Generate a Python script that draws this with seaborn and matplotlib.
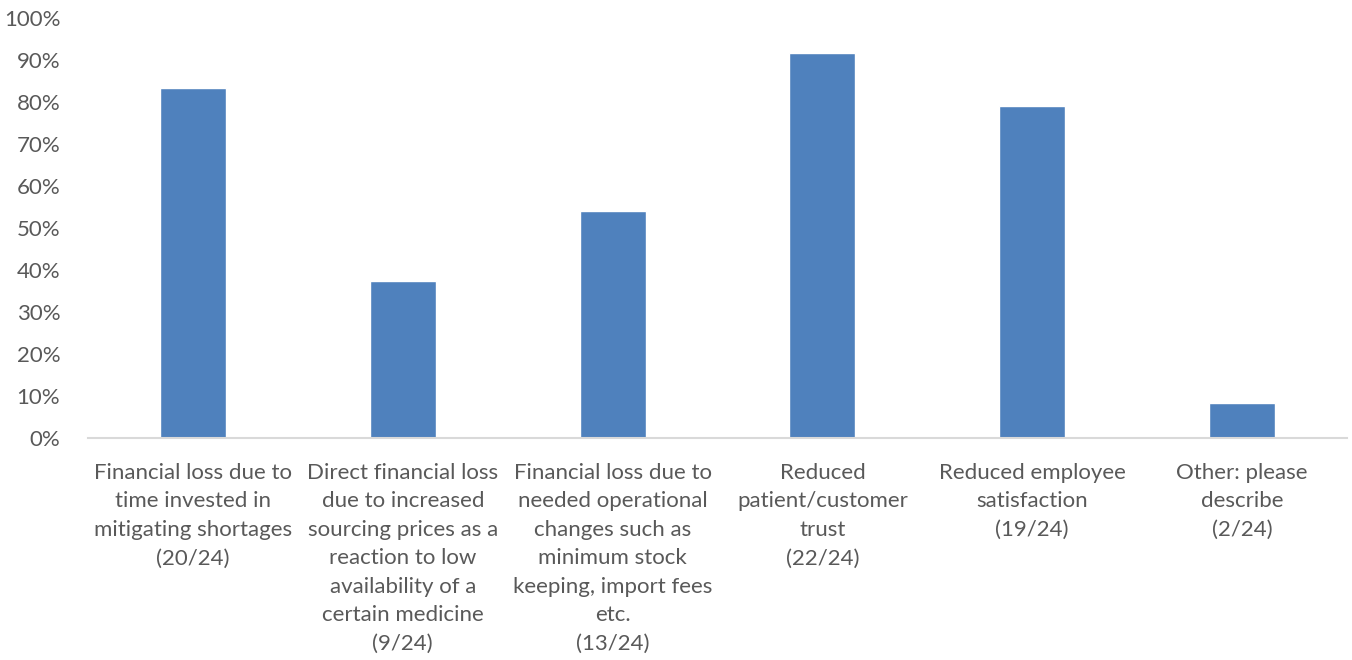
import matplotlib
matplotlib.use("Agg")
import matplotlib.pyplot as plt
import seaborn as sns
import pandas as pd
from matplotlib.ticker import PercentFormatter

categories = [
    "Financial loss due to\ntime invested in\nmitigating shortages\n(20/24)",
    "Direct financial loss\ndue to increased\nsourcing prices as a\nreaction to low\navailability of a\ncertain medicine\n(9/24)",
    "Financial loss due to\nneeded operational\nchanges such as\nminimum stock\nkeeping, import fees\netc.\n(13/24)",
    "Reduced\npatient/customer\ntrust\n(22/24)",
    "Reduced employee\nsatisfaction\n(19/24)",
    "Other: please\ndescribe\n(2/24)",
]
values = [20/24, 9/24, 13/24, 22/24, 19/24, 2/24]
yticks = [0, 0.1, 0.2, 0.3, 0.4, 0.5, 0.6, 0.7, 0.8, 0.9, 1.0]

df = pd.DataFrame({"cat": categories, "val": values})

sns.set_theme(style="white")
plt.rcParams['font.family'] = ['Lato', 'DejaVu Sans']

fig = plt.figure(figsize=(13.52, 6.6), dpi=100)
ax = fig.add_axes([88/1352, 1-438/660, (1347-88)/1352, 420/660])
sns.barplot(data=df, x="cat", y="val", color="#4F81BD", width=0.315, ax=ax, saturation=1)
ax.set_ylim(0, 1.0)
ax.set_xlim(-0.5, 5.5)
ax.set_yticks(yticks)
ax.yaxis.set_major_formatter(PercentFormatter(1.0, decimals=0))
ax.set_xlabel("")
ax.set_ylabel("")
for s in ["top", "right", "left"]:
    ax.spines[s].set_visible(False)
ax.spines["bottom"].set_color("#D9D9D9")
ax.spines["bottom"].set_linewidth(1.5)
ax.tick_params(axis="y", colors="#595959", labelsize=16, length=0, pad=20)
ax.tick_params(axis="x", colors="#595959", labelsize=16, length=0, pad=18)
for lbl in ax.get_xticklabels():
    lbl.set_linespacing(1.53)
    lbl.set_va("top")
fig.savefig("out.png", dpi=100)
